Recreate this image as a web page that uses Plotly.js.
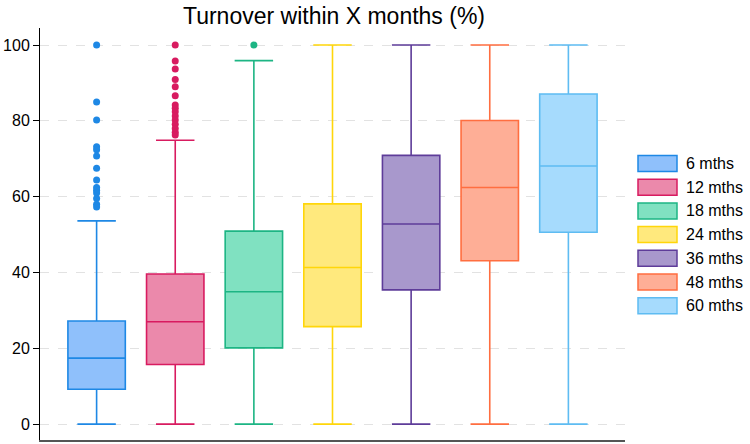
<!DOCTYPE html>
<html>
<head>
<meta charset="utf-8">
<script src="https://cdn.plot.ly/plotly-3.0.1.min.js"></script>
<style>
  html, body { margin: 0; padding: 0; background: #ffffff; }
  #chart { width: 750px; height: 444px; }
</style>
</head>
<body>
<div id="chart"></div>
<script>
// Turnover within X months (%) — precomputed box statistics per horizon
const groups = ["6 mths", "12 mths", "18 mths", "24 mths", "36 mths", "48 mths", "60 mths"];
const lowerFence = [0, 0, 0, 0, 0, 0, 0];
const q1Values = [9.2, 15.7, 20.1, 25.7, 35.4, 43.1, 50.6];
const medianValues = [17.4, 27.0, 34.9, 41.3, 52.8, 62.4, 68.1];
const q3Values = [27.2, 39.6, 50.9, 58.1, 70.9, 80.1, 87.1];
const upperFence = [53.6, 74.9, 95.9, 100, 100, 100, 100];

// Outlying observations beyond the upper whisker
const outliers6 = [100, 85.0, 80.2, 73.2, 72.4, 70.7, 67.5, 64.4, 62.4, 61.7, 61.0, 59.5, 58.0, 57.3];
const outliers12 = [100, 95.8, 93.7, 90.9, 89.0, 86.6, 84.2, 83.3, 82.4, 81.3, 80.2, 79.1, 78.0, 77.0, 76.3];
const outliers18 = [100];

const lineColors = ["#1e88e5", "#d81b60", "#1db584", "#ffd60a", "#5e3c99", "#ff6e40", "#5ebcf2"];
const fillColors = ["#8fc0fb", "#eb89ab", "#80e1c1", "#ffe97d", "#a898cc", "#feae96", "#a6dbfd"];

const tickValues = [0, 20, 40, 60, 80, 100];

const FONT = "Liberation Sans, Arial, sans-serif";

const traces = [];
groups.forEach((g, i) => {
  traces.push({
    type: "box",
    name: g,
    x: [i],
    lowerfence: [lowerFence[i]],
    q1: [q1Values[i]],
    median: [medianValues[i]],
    q3: [q3Values[i]],
    upperfence: [upperFence[i]],
    width: 0.73,
    whiskerwidth: 0.67,
    fillcolor: fillColors[i],
    line: { color: lineColors[i], width: 1.6 },
    showlegend: false,
    hoverinfo: "y"
  });
});

const outlierSets = [outliers6, outliers12, outliers18];
outlierSets.forEach((vals, i) => {
  traces.push({
    type: "scatter",
    mode: "markers",
    x: vals.map(() => i),
    y: vals,
    marker: { color: lineColors[i], size: 7 },
    showlegend: false,
    hoverinfo: "y"
  });
});

// Legend drawn with paper-anchored swatches and labels
const legendShapes = [];
const legendLabels = [];
const legTop = 163.5, legStep = 23.7;
groups.forEach((g, i) => {
  const cy = legTop + i * legStep;
  legendShapes.push({
    type: "rect", xref: "paper", yref: "paper",
    x0: (638 - 40) / 585, x1: (677 - 40) / 585,
    y0: (440 - (cy + 8)) / 412, y1: (440 - (cy - 8)) / 412,
    fillcolor: fillColors[i],
    line: { color: lineColors[i], width: 1.5 }
  });
  legendLabels.push({
    xref: "paper", yref: "paper",
    x: (684 - 40) / 585, y: (440 - cy) / 412,
    xanchor: "left", yanchor: "middle",
    text: g, showarrow: false,
    font: { family: FONT, size: 16, color: "#000000" }
  });
});

const layout = {
  width: 750, height: 444,
  margin: { l: 40, r: 125, t: 28, b: 4 },
  paper_bgcolor: "#ffffff",
  plot_bgcolor: "#ffffff",
  font: { family: FONT, size: 16, color: "#000000" },
  title: {
    text: "Turnover within X months (%)",
    font: { family: FONT, size: 23, color: "#000000" },
    x: 334 / 750, xanchor: "center", xref: "container",
    y: 1 - 16 / 444, yanchor: "middle", yref: "container"
  },
  xaxis: {
    range: [-0.72, 6.72],
    showticklabels: false,
    showgrid: false,
    zeroline: false,
    ticks: "",
    showline: true,
    linecolor: "#555555",
    linewidth: 2,
    fixedrange: true
  },
  yaxis: {
    range: [-4.2, 104.5],
    tickvals: tickValues,
    ticktext: tickValues.map(String),
    ticks: "outside",
    ticklen: 6,
    tickcolor: "#000000",
    tickwidth: 1,
    showline: true,
    linecolor: "#000000",
    linewidth: 1,
    showgrid: true,
    gridcolor: "#e2e2e2",
    gridwidth: 1,
    griddash: "dash",
    zeroline: false,
    tickfont: { family: FONT, size: 16, color: "#000000" },
    fixedrange: true
  },
  shapes: legendShapes,
  annotations: legendLabels
};

Plotly.newPlot("chart", traces, layout, { displayModeBar: false, staticPlot: true });
</script>
</body>
</html>
